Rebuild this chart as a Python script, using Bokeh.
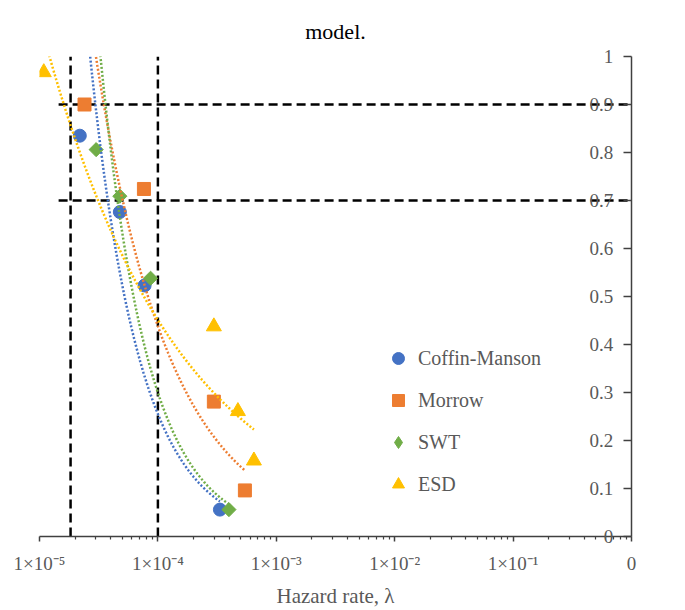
import math
import numpy as np
from bokeh.plotting import figure
from bokeh.models import (Range1d, LinearAxis, FixedTicker, CustomJSTickFormatter,
                          Legend, LegendItem, Label)
from bokeh.embed import file_html
from bokeh.resources import INLINE

# ---------------- data ----------------
series_names = ["Coffin-Manson", "Morrow", "SWT", "ESD"]
cm_x = [2.19e-5, 4.77e-5, 7.72e-5, 3.34e-4]
cm_r = [0.835, 0.676, 0.523, 0.056]
mo_x = [2.40e-5, 7.62e-5, 2.97e-4, 5.43e-4]
mo_r = [0.900, 0.724, 0.281, 0.096]
swt_x = [3.01e-5, 4.77e-5, 8.67e-5, 3.98e-4]
swt_r = [0.806, 0.709, 0.538, 0.056]
esd_x = [1.087e-5, 2.97e-4, 4.74e-4, 6.47e-4]
esd_r = [0.967, 0.4375, 0.261, 0.158]

vline_x = [1.83e-5, 1.0e-4]          # vertical dashed guide lines
hline_y = [0.9, 0.7]                 # horizontal dashed guide lines
hline_start = 1.45e-5

x_ticks = [1e-5, 1e-4, 1e-3, 1e-2, 1e-1, 1e0]
x_tick_labels = ["1×10⁻⁵", "1×10⁻⁴", "1×10⁻³", "1×10⁻²", "1×10⁻¹", "0"]
y_ticks = [0, 0.1, 0.2, 0.3, 0.4, 0.5, 0.6, 0.7, 0.8, 0.9, 1.0]
y_tick_labels = ["0", "0.1", "0.2", "0.3", "0.4", "0.5", "0.6", "0.7", "0.8", "0.9", "1"]

colors = ["#4472C4", "#ED7D31", "#70AD47", "#FFC000"]
markers = ["circle", "square", "square", "triangle"]
mangles = [0, 0, math.pi / 4, 0]
msizes = [13, 13, 10, 15]
legend_markers = ["circle", "square", "diamond", "triangle"]
legend_sizes = [13, 13, 15, 15]

FONT = "Liberation Serif"
GRAY = "#595959"

# ---------------- figure ----------------
p = figure(x_axis_type="log", x_range=Range1d(1e-5, 1.0), y_range=Range1d(0, 1.0),
           frame_width=592, frame_height=480,
           min_border_left=39, min_border_top=56, min_border_right=50, min_border_bottom=66,
           y_axis_location=None, output_backend="svg", toolbar_location=None)
p.grid.visible = False
p.outline_line_color = None
p.background_fill_color = "white"

# caption fragment at the top
p.title.text = "model."
p.title.align = "center"
p.title.standoff = 26
p.title.text_font = FONT
p.title.text_font_size = "22px"
p.title.text_font_style = "normal"
p.title.text_color = "black"

# x axis
xa = p.xaxis[0]
minor = [k * 10.0 ** d for d in range(-5, 0) for k in range(2, 10)]
xa.ticker = FixedTicker(ticks=x_ticks, minor_ticks=minor)
xa.formatter = CustomJSTickFormatter(args=dict(tvals=x_ticks, tlabs=x_tick_labels), code="""
for (let i = 0; i < tvals.length; i++) {
  if (Math.abs(Math.log10(tick) - Math.log10(tvals[i])) < 1e-6) return tlabs[i];
}
return "";
""")
xa.axis_line_color = "#404040"
xa.axis_line_width = 1.5
xa.major_tick_line_color = "#404040"
xa.major_tick_line_width = 1.5
xa.major_tick_out = 5
xa.major_tick_in = 0
xa.minor_tick_line_color = "#404040"
xa.minor_tick_line_width = 1.2
xa.minor_tick_out = 3
xa.minor_tick_in = 0
xa.major_label_text_font = FONT
xa.major_label_text_font_size = "19px"
xa.major_label_text_color = GRAY
xa.major_label_standoff = 11
xa.axis_label = "Hazard rate, λ"
xa.axis_label_text_font = FONT
xa.axis_label_text_font_size = "21px"
xa.axis_label_text_font_style = "normal"
xa.axis_label_text_color = GRAY
xa.axis_label_standoff = 7

# right y axis: ticks point inside, labels sit on the inner (left) side of the line
# (single-digit labels are padded with a figure space + punctuation space so all
#  labels end at the same place)
ya = LinearAxis(ticker=FixedTicker(ticks=y_ticks))
ya.formatter = CustomJSTickFormatter(args=dict(tvals=y_ticks, tlabs=y_tick_labels), code="""
for (let i = 0; i < tvals.length; i++) {
  if (Math.abs(tick - tvals[i]) < 1e-9) {
    const s = tlabs[i];
    return s.length < 3 ? "\\u2007\\u2008" + s : s;
  }
}
return "";
""")
ya.axis_line_color = "#404040"
ya.axis_line_width = 1.5
ya.major_tick_line_color = "#404040"
ya.major_tick_line_width = 1.5
ya.major_tick_in = 8
ya.major_tick_out = 0
ya.minor_tick_line_color = None
ya.major_label_standoff = -42
ya.major_label_text_align = "right"
ya.major_label_text_font = FONT
ya.major_label_text_font_size = "19px"
ya.major_label_text_color = GRAY
p.add_layout(ya, "right")

p.add_layout(Label(x=x_ticks[-1], y=0.5, x_offset=25, angle=math.pi / 2,
                   text="Reliability, R", text_align="center", text_baseline="middle",
                   text_font=FONT, text_font_size="21px", text_color=GRAY))

# dashed guide lines
for vx in vline_x:
    p.line([vx, vx], [y_ticks[0], y_ticks[-1]], line_color="black", line_width=2.5,
           line_dash="9 5")
for hy in hline_y:
    p.line([hline_start, x_ticks[-1]], [hy, hy], line_color="black", line_width=2.5,
           line_dash="9 5")

# markers
all_x = [cm_x, mo_x, swt_x, esd_x]
all_r = [cm_r, mo_r, swt_r, esd_r]
items = []
for name, xs, rs, c, m, s, ang, lm, ls in zip(series_names, all_x, all_r, colors, markers,
                                              msizes, mangles, legend_markers, legend_sizes):
    p.scatter(xs, rs, marker=m, size=s, angle=ang, fill_color=c, line_color=c)
    # legend key glyph (one non-plotted point, only used for the key)
    lr = p.scatter(x=[float("nan")], y=[float("nan")], marker=lm, size=ls,
                   fill_color=c, line_color=c)
    items.append(LegendItem(label=name, renderers=[lr]))

# power-law trend lines (least squares in log-log space), drawn over the markers
for xs, rs, c in zip(all_x, all_r, colors):
    b, a = np.polyfit(np.log(xs), np.log(rs), 1)
    xx = np.geomspace(min(xs), max(xs), 300)
    yy = np.exp(a) * xx ** b
    p.line(xx, yy, line_color=c, line_width=2.5, line_dash="2 2")

legend = Legend(items=items, location=(344, 37), border_line_color=None,
                background_fill_alpha=0, padding=0, margin=0, spacing=12,
                glyph_width=30, glyph_height=30, label_height=30, label_standoff=5,
                label_text_font=FONT, label_text_font_size="20px", label_text_color=GRAY)
p.add_layout(legend)

open("out.html", "w").write(file_html(p, INLINE))
